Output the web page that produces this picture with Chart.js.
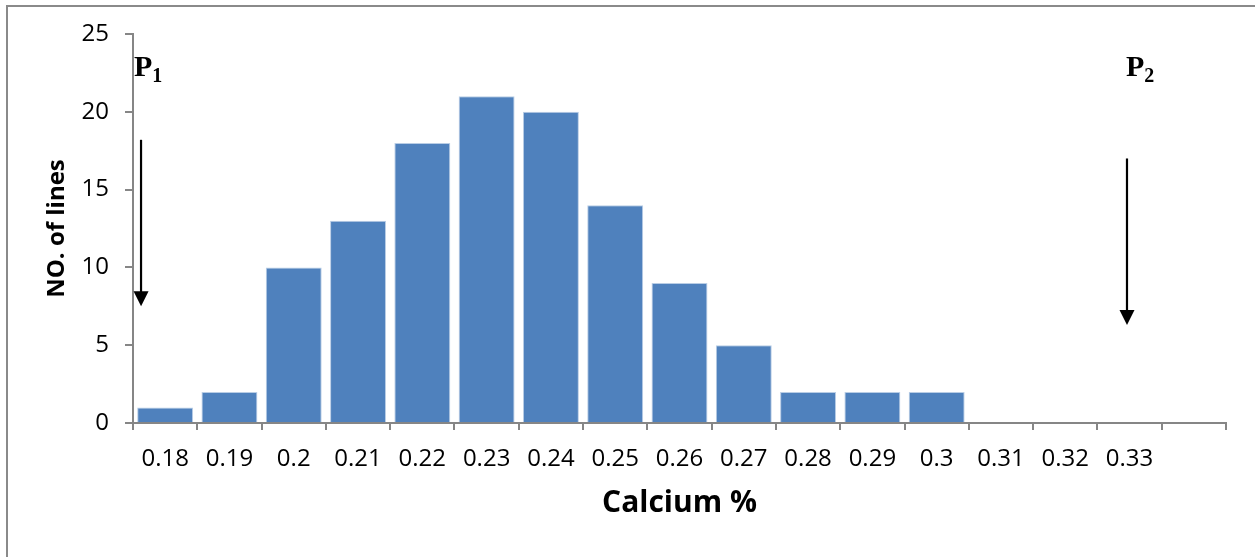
<!DOCTYPE html>
<html>
<head>
<meta charset="utf-8">
<script src="https://cdn.jsdelivr.net/npm/chart.js@4/dist/chart.umd.min.js"></script>
<style>
  html, body { margin: 0; padding: 0; background: #fff; }
  #wrap { width: 1255px; height: 557px; position: relative; }
</style>
</head>
<body>
<div id="wrap"><canvas id="c" width="1255" height="557"></canvas></div>
<script>
// Calcium content classes (%) and number of lines in each class
const calciumClasses = ['0.18', '0.19', '0.2', '0.21', '0.22', '0.23', '0.24', '0.25',
                        '0.26', '0.27', '0.28', '0.29', '0.3', '0.31', '0.32', '0.33', ''];
const lineCounts = [1, 2, 10, 13, 18, 21, 20, 14, 9, 5, 2, 2, 2, 0, 0, 0, null];
const yTicks = [0, 5, 10, 15, 20, 25];

const AXIS_GREY = '#868686';
const BAR_BLUE = '#4F81BD';

// Parent markers P1 / P2 with downward arrows, placed in data units
const parentMarkers = {
  id: 'parentMarkers',
  afterDatasetsDraw(chart, args, opts) {
    const { ctx, scales: { x, y } } = chart;
    ctx.save();
    opts.items.forEach(m => {
      const px = x.getPixelForValue(m.index) + m.shift * (x.getPixelForValue(1) - x.getPixelForValue(0));
      const yTop = y.getPixelForValue(m.from);
      const yTip = y.getPixelForValue(m.to);
      // shaft
      ctx.strokeStyle = '#000';
      ctx.lineWidth = 2.2;
      ctx.beginPath();
      ctx.moveTo(px, yTop);
      ctx.lineTo(px, yTip - 14);
      ctx.stroke();
      // head
      ctx.fillStyle = '#000';
      ctx.beginPath();
      ctx.moveTo(px - 7.5, yTip - 15);
      ctx.lineTo(px + 7.5, yTip - 15);
      ctx.lineTo(px, yTip);
      ctx.closePath();
      ctx.fill();
      // label
      const tx = px + m.textDx;
      const ty = y.getPixelForValue(m.textAt);
      ctx.textAlign = 'left';
      ctx.textBaseline = 'alphabetic';
      ctx.font = 'bold 30px "Liberation Serif", "DejaVu Serif", serif';
      ctx.fillText(m.label, tx, ty);
      const w = ctx.measureText(m.label).width;
      ctx.font = 'bold 20px "Liberation Serif", "DejaVu Serif", serif';
      ctx.fillText(m.sub, tx + w, ty + 6);
    });
    ctx.restore();
  }
};

// Thin outer frame on the left and top edges
const outerFrame = {
  id: 'outerFrame',
  beforeDraw(chart) {
    const { ctx } = chart;
    ctx.save();
    ctx.strokeStyle = '#8a8a8a';
    ctx.lineWidth = 2;
    ctx.beginPath();
    ctx.moveTo(7, 557);
    ctx.lineTo(7, 6);
    ctx.lineTo(1255, 6);
    ctx.stroke();
    ctx.restore();
  }
};

new Chart(document.getElementById('c'), {
  type: 'bar',
  data: {
    labels: calciumClasses,
    datasets: [{
      data: lineCounts,
      backgroundColor: BAR_BLUE,
      borderColor: '#b9cde5',
      borderWidth: 1,
      barPercentage: 0.87,
      categoryPercentage: 1.0
    }]
  },
  options: {
    responsive: false,
    animation: false,
    devicePixelRatio: 1,
    layout: { padding: { left: 43, right: 29, top: 34, bottom: 36 } },
    plugins: {
      legend: { display: false },
      tooltip: { enabled: false },
      parentMarkers: {
        items: [
          { label: 'P', sub: '1', index: 0, shift: -0.375, from: 18.2, to: 7.5, textDx: -7, textAt: 22.3 },
          { label: 'P', sub: '2', index: 15, shift: -0.04, from: 17.0, to: 6.3, textDx: -1, textAt: 22.3 }
        ]
      }
    },
    scales: {
      x: {
        offset: true,
        grid: {
          offset: true,
          drawOnChartArea: false,
          drawTicks: true,
          tickLength: 7,
          color: AXIS_GREY,
          lineWidth: 2
        },
        border: { display: true, color: AXIS_GREY, width: 2 },
        ticks: {
          color: '#000',
          padding: 15,
          maxRotation: 0,
          autoSkip: false,
          font: { family: '"Open Sans", sans-serif', size: 24 }
        },
        title: {
          display: true,
          text: 'Calcium %',
          color: '#000',
          padding: { top: 0, bottom: 0 },
          font: { family: '"Open Sans", sans-serif', size: 30, weight: 'bold' }
        },
        afterFit(scale) { scale.height = 98; }
      },
      y: {
        min: 0,
        max: 25,
        afterBuildTicks(scale) { scale.ticks = yTicks.map(v => ({ value: v })); },
        grid: {
          drawOnChartArea: false,
          drawTicks: true,
          tickLength: 8,
          color: AXIS_GREY,
          lineWidth: 2
        },
        border: { display: true, color: AXIS_GREY, width: 2 },
        ticks: {
          color: '#000',
          padding: 16,
          font: { family: '"Open Sans", sans-serif', size: 24 }
        },
        title: {
          display: true,
          text: 'NO. of lines',
          color: '#000',
          padding: { top: 0, bottom: 0 },
          font: { family: '"Open Sans", sans-serif', size: 24, weight: 'bold' }
        },
        afterFit(scale) { scale.width = 90; }
      }
    }
  },
  plugins: [outerFrame, parentMarkers]
});
</script>
</body>
</html>
